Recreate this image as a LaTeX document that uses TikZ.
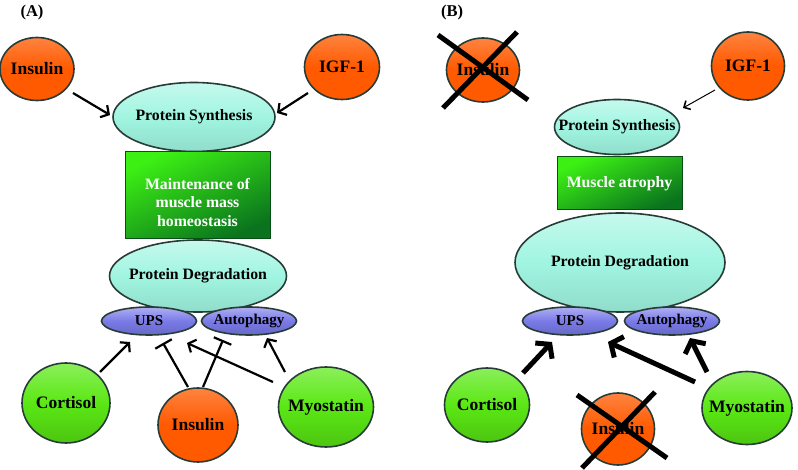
\documentclass[tikz,border=0pt]{standalone}
\usepackage{fontspec}
\setmainfont{Liberation Serif}
\usepackage{xcolor}
\usetikzlibrary{shapes.geometric,arrows.meta}
\definecolor{hormone}{RGB}{255,90,0}
\definecolor{stress}{RGB}{90,232,20}
\definecolor{aqua}{RGB}{160,245,225}
\definecolor{pathway}{RGB}{122,122,232}
\definecolor{boxlight}{RGB}{60,240,20}
\definecolor{boxdark}{RGB}{10,115,30}
\definecolor{rim}{RGB}{40,60,55}

\begin{document}
\begin{tikzpicture}[x=1pt,y=-1pt,
    ball/.style={ellipse, inner sep=0pt, draw=rim, line width=1.6pt},
    orangeball/.style={ball, top color=hormone!75!white, bottom color=hormone, middle color=hormone},
    greenball/.style={ball, top color=stress!70!white, bottom color=stress!85!black, middle color=stress},
    aquaball/.style={ball, top color=aqua!60!white, bottom color=aqua!90!black, middle color=aqua},
    blueball/.style={ball, top color=pathway!60!white, bottom color=pathway!85!black, middle color=pathway},
    biglabel/.style={font=\fontsize{17.5}{20}\selectfont\bfseries},
    midlabel/.style={font=\fontsize{15.8}{18}\selectfont\bfseries},
    smalllabel/.style={font=\fontsize{15}{17}\selectfont\bfseries},
    massbox/.style={rectangle, draw=boxdark!70!black, line width=1pt, top color=boxlight, bottom color=boxdark,
      shading angle=25, text=white, align=center, font=\fontsize{15.8}{18.3}\selectfont\bfseries},
    boxtext/.style={text=white, align=center, font=\fontsize{15.8}{18.3}\selectfont\bfseries},
    act/.style={line width=2.2pt, -{Straight Barb[length=6pt,width=14pt]}},
    inhib/.style={line width=2.2pt, -{Bar[width=19pt,line width=2.2pt]}},
    bigact/.style={line width=5pt, -{Straight Barb[length=9pt,width=23pt]}},
    thinact/.style={line width=1pt, -{Straight Barb[length=5pt,width=10pt,line width=1.6pt]}},
    cross/.style={line width=5pt}]
\useasboundingbox (0,0) rectangle (798,470);

% panel A
\node[font=\fontsize{16.5}{19}\selectfont\bfseries] (labA) at (32,13) {(A)};
\node[orangeball, minimum width=74pt, minimum height=63pt, label={[biglabel]center:Insulin}] (insA) at (37,69) {};
\node[orangeball, minimum width=75pt, minimum height=65pt, label={[biglabel]center:IGF-1}] (igfA) at (342,67) {};
\node[aquaball, minimum width=162pt, minimum height=69pt, label={[midlabel]center:Protein Synthesis}] (psA) at (194,117) {};
\node[massbox, minimum width=145pt, minimum height=87pt,
  label={[boxtext, yshift=-7pt]center:{Maintenance of\\muscle mass\\homeostasis}}] (boxA) at (197.5,195.5) {};
\node[aquaball, minimum width=177pt, minimum height=72pt, label={[midlabel]center:Protein Degradation}] (pdA) at (198,276) {};
\node[blueball, minimum width=95pt, minimum height=28pt, label={[smalllabel]center:UPS}] (upsA) at (149,321) {};
\node[blueball, minimum width=95pt, minimum height=28pt, label={[smalllabel]center:Autophagy}] (autA) at (249,321) {};
\node[greenball, minimum width=88pt, minimum height=80pt, label={[biglabel]center:Cortisol}] (cortA) at (66,403) {};
\node[orangeball, minimum width=80pt, minimum height=74pt, label={[biglabel]center:Insulin}] (insA2) at (198,425) {};
\node[greenball, minimum width=95pt, minimum height=80pt, label={[biglabel]center:Myostatin}] (myoA) at (326,407) {};

\draw[act] ([shift={(36,24)}]insA.center) -- ([shift={(-84,-2)}]psA.center);
\draw[act] ([shift={(-34,26)}]igfA.center) -- ([shift={(83,-4)}]psA.center);
\draw[act] ([shift={(34,-31)}]cortA.center) -- ([shift={(-19,21)}]upsA.center);
\draw[inhib] ([shift={(-10,-38)}]insA2.center) -- ([shift={(14,22)}]upsA.center);
\draw[inhib] ([shift={(5,-38)}]insA2.center) -- ([shift={(-26,19)}]autA.center);
\draw[act] ([shift={(-53,-25)}]myoA.center) -- ([shift={(38,22)}]upsA.center);
\draw[act] ([shift={(-41,-35)}]myoA.center) -- ([shift={(18,17)}]autA.center);

% panel B
\node[font=\fontsize{16.5}{19}\selectfont\bfseries] (labB) at (452,13) {(B)};
\node[orangeball, minimum width=73pt, minimum height=64pt, label={[biglabel]center:Insulin}] (insB) at (483,70) {};
\node[orangeball, minimum width=73pt, minimum height=68pt, label={[biglabel]center:IGF-1}] (igfB) at (748,66) {};
\node[aquaball, minimum width=125pt, minimum height=55pt, label={[midlabel]center:Protein Synthesis}] (psB) at (617,127) {};
\node[massbox, minimum width=125pt, minimum height=53pt] (boxB) at (619.5,183.5) {Muscle atrophy};
\node[aquaball, minimum width=210pt, minimum height=99pt, label={[midlabel]center:Protein Degradation}] (pdB) at (620,262.5) {};
\node[blueball, minimum width=95pt, minimum height=28pt, label={[smalllabel]center:UPS}] (upsB) at (570,321) {};
\node[blueball, minimum width=95pt, minimum height=28pt, label={[smalllabel]center:Autophagy}] (autB) at (672,321) {};
\node[greenball, minimum width=85pt, minimum height=74pt, label={[biglabel]center:Cortisol}] (cortB) at (487,405) {};
\node[orangeball, minimum width=73pt, minimum height=72pt, label={[biglabel]center:Insulin}] (insB2) at (618,429) {};
\node[greenball, minimum width=90pt, minimum height=73pt, label={[biglabel]center:Myostatin}] (myoB) at (747,408) {};

\draw[cross] ([shift={(-45,-35)}]insB.center) -- ([shift={(45,30)}]insB.center);
\draw[cross] ([shift={(34,-38)}]insB.center) -- ([shift={(-40,38)}]insB.center);
\draw[cross] ([shift={(-41,-34)}]insB2.center) -- ([shift={(49,29)}]insB2.center);
\draw[cross] ([shift={(37,-37)}]insB2.center) -- ([shift={(-36,39)}]insB2.center);

\draw[thinact] ([shift={(-33,24)}]igfB.center) -- ([shift={(66,-19)}]psB.center);
\draw[bigact] ([shift={(36,-32)}]cortB.center) -- ([shift={(-18,21)}]upsB.center);
\draw[bigact] ([shift={(-52,-26)}]myoB.center) -- ([shift={(38,21)}]upsB.center);
\draw[bigact] ([shift={(-40,-36)}]myoB.center) -- ([shift={(18,17)}]autB.center);
\end{tikzpicture}
\end{document}
